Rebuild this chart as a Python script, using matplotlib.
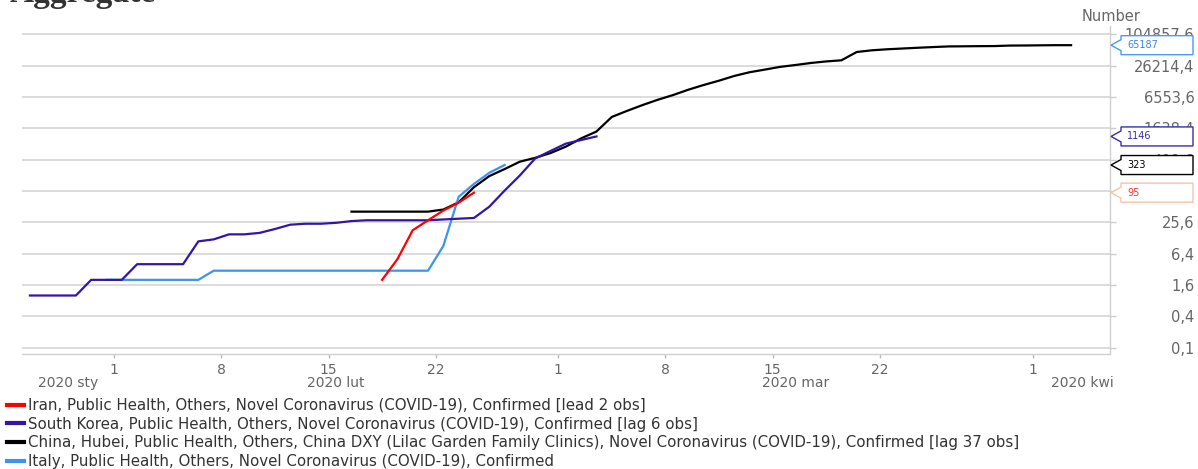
import numpy as np
import pandas as pd
import matplotlib
matplotlib.use("Agg")
import matplotlib.pyplot as plt
import matplotlib.dates as mdates
from matplotlib.patches import Polygon
from matplotlib.lines import Line2D

# ---------------- data ----------------
iran_start = "2020-02-18"
iran_values = [2, 5, 18, 28, 43, 61, 95]

korea_start = "2020-01-26"
korea_values = [1, 1, 1, 1, 2, 2,
                2, 4, 4, 4, 4, 11, 12, 15, 15, 16, 19, 23, 24, 24, 25, 27, 28,
                28, 28, 28, 28, 29, 30, 31, 51, 104, 204, 433, 602,
                833, 977, 1146]

china_start = "2020-02-16"
china_values = [41, 41, 41, 41, 41, 41, 45, 62, 121, 198, 270, 375, 444, 549,
                729, 1052, 1423, 2714, 3554, 4586, 5806, 7153, 9074, 11177,
                13522, 16678, 19665, 22112, 24953, 27100, 29631, 31728, 33366,
                48206, 51986, 54406, 56249, 58182, 59989, 61682, 62031, 62442,
                62662, 64084, 64287, 64786, 65187, 65187]

italy_start = "2020-01-31"
italy_values = [2, 2, 2, 2, 2, 2, 2,
                3, 3, 3, 3, 3, 3, 3, 3, 3, 3, 3, 3, 3, 3, 3,
                9, 79, 140, 229, 323]

labels = {
    "iran": "Iran, Public Health, Others, Novel Coronavirus (COVID-19), Confirmed [lead 2 obs]",
    "korea": "South Korea, Public Health, Others, Novel Coronavirus (COVID-19), Confirmed [lag 6 obs]",
    "china": "China, Hubei, Public Health, Others, China DXY (Lilac Garden Family Clinics), Novel Coronavirus (COVID-19), Confirmed [lag 37 obs]",
    "italy": "Italy, Public Health, Others, Novel Coronavirus (COVID-19), Confirmed",
}
colors = {"iran": "#ff0000", "korea": "#3315a8", "china": "#000000", "italy": "#3d93f0"}

x_tick_dates = ["2020-02-01", "2020-02-08", "2020-02-15", "2020-02-22",
                "2020-03-01", "2020-03-08", "2020-03-15", "2020-03-22", "2020-04-01"]
month_labels = ["2020 sty", "2020 lut", "2020 mar", "2020 kwi"]

# ---------------- figure ----------------
W, H = 1198, 469
fig = plt.figure(figsize=(W / 100, H / 100), dpi=100)
ax_left, ax_right, ax_top, ax_bottom = 22.3, 1110, 26, 354.3
ax = fig.add_axes([ax_left / W, 1 - ax_bottom / H, (ax_right - ax_left) / W,
                   (ax_bottom - ax_top) / H])

half_day = pd.Timedelta(hours=12)


def xs(start, n):
    d = pd.date_range(start, periods=n, freq="D") + half_day
    return mdates.date2num(d.to_pydatetime())


series = [
    ("china", china_start, china_values),
    ("italy", italy_start, italy_values),
    ("korea", korea_start, korea_values),
    ("iran", iran_start, iran_values),
]
for key, start, vals in series:
    ax.plot(xs(start, len(vals)), vals, color=colors[key], lw=1.6,
            solid_joinstyle="round", zorder=3)

ax.set_yscale("log", base=4)
ax.set_ylim(0.074, 152400)
xmin = mdates.date2num(pd.Timestamp("2020-01-26"))
xmax = mdates.date2num(pd.Timestamp("2020-04-06 01:00"))
ax.set_xlim(xmin, xmax)

yt = [0.1 * 4 ** k for k in range(11)]
ax.set_yticks(yt)
ax.set_yticklabels([f"{v:.1f}".replace(".", ",") for v in yt])
ax.yaxis.set_minor_locator(matplotlib.ticker.NullLocator())
ax.yaxis.tick_right()
pad_pt = (1193 - 1110 - 4) * 72 / 100
ax.tick_params(axis="y", which="major", length=4, width=1, color="#cccccc",
               pad=pad_pt, labelsize=10.5, labelcolor="#666666")
for t in ax.get_yticklabels():
    t.set_horizontalalignment("right")

xt = mdates.date2num(pd.to_datetime(x_tick_dates).to_pydatetime())
ax.set_xticks(xt)
ax.set_xticklabels([str(pd.Timestamp(d).day) for d in x_tick_dates])
ax.tick_params(axis="x", length=3, width=1, color="#bbbbbb", pad=3,
               labelsize=10, labelcolor="#666666")

ax.grid(axis="y", color="#d9d9d9", lw=1.3)
ax.set_axisbelow(True)
for s in ["left", "top"]:
    ax.spines[s].set_visible(False)
ax.spines["right"].set_color("#d0d0d0")
ax.spines["bottom"].set_color("#d0d0d0")
ax.spines["right"].set_linewidth(1)
ax.spines["bottom"].set_linewidth(1)

# month labels (centred on visible part of each month)
month_starts = pd.to_datetime(["2020-01-01", "2020-02-01", "2020-03-01", "2020-04-01", "2020-05-01"])
ms = mdates.date2num(month_starts.to_pydatetime())
month_y = (ax_bottom - 383) / (ax_bottom - ax_top)
for i, lab in enumerate(month_labels):
    a = max(ms[i], xmin)
    b = min(ms[i + 1], xmax + 1.4)
    ax.text((a + b) / 2, month_y, lab, transform=ax.get_xaxis_transform(),
            ha="center", va="center", fontsize=10, color="#666666")

# axis title & chart title
fig.text(1110.7 / W, 1 - 16.7 / H, "Number", ha="center", va="center",
         fontsize=10.5, color="#666666")
fig.text(10 / W, 1 - 2 / H, "Aggregate", ha="left", va="baseline",
         fontsize=24, fontweight="bold", family="Liberation Serif", color="#333333")

# legend
handles = [Line2D([0], [0], color=colors[k], lw=3) for k in ["iran", "korea", "china", "italy"]]
fig.legend(handles, [labels[k] for k in ["iran", "korea", "china", "italy"]],
           loc="upper left", bbox_to_anchor=(7 / W, 1 - 398 / H), frameon=False,
           fontsize=10.8, handlelength=1.15, handletextpad=0.25, labelspacing=0.24,
           borderaxespad=0, borderpad=0, labelcolor="#333333")

# callouts on the right axis
fig.canvas.draw()
tip_x = ax.transAxes.transform((1, 0))[0] + 1
inv = fig.transFigure.inverted()
callouts = [
    (china_values[-1], "65187", "#4a9af0", "#3a86e6"),
    (korea_values[-1], "1146", "#3a2db0", "#3a2db0"),
    (italy_values[-1], "323", "#000000", "#000000"),
    (iran_values[-1], "95", "#f8c4a4", "#ff3030"),
]
for val, txt, edge, tcol in callouts:
    ty = ax.transData.transform((xmin, val))[1]
    pts = np.array([
        (tip_x, ty), (tip_x + 10, ty + 5.5), (tip_x + 10, ty + 9.5),
        (tip_x + 82, ty + 9.5), (tip_x + 82, ty - 9.5), (tip_x + 10, ty - 9.5),
        (tip_x + 10, ty - 5.5)])
    poly = Polygon(inv.transform(pts), closed=True, facecolor="white",
                   edgecolor=edge, lw=1, transform=fig.transFigure, zorder=5)
    fig.patches.append(poly)
    fx, fy = inv.transform((tip_x + 16, ty))
    fig.text(fx, fy, txt, ha="left", va="center", fontsize=7, color=tcol, zorder=6)

fig.savefig("out.png", dpi=100)
